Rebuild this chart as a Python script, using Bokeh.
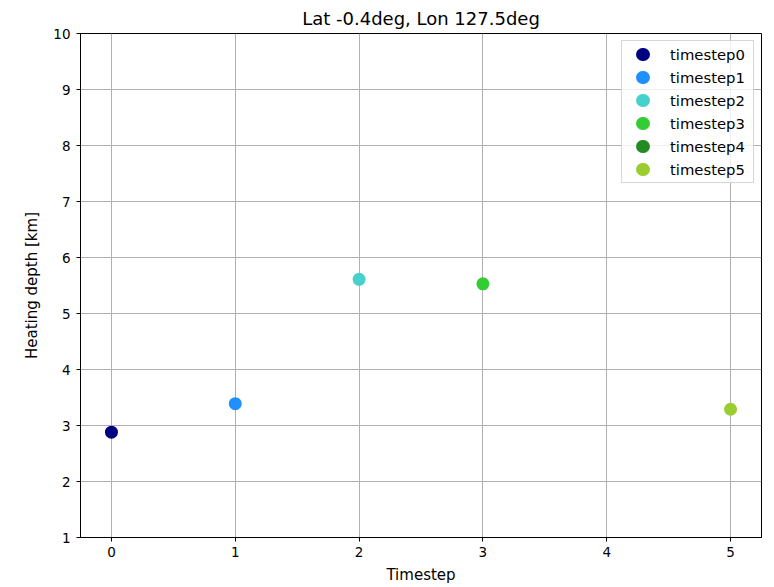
from bokeh.plotting import figure
from bokeh.models import ColumnDataSource, FixedTicker, Legend, LegendItem, Range1d
from bokeh.embed import file_html
from bokeh.resources import INLINE

# Heating depth at one grid cell for each timestep (timestep4 has no value)
timesteps = [0, 1, 2, 3, 4, 5]
labels = ["timestep0", "timestep1", "timestep2", "timestep3", "timestep4", "timestep5"]
depth_km = [2.88, 3.39, 5.61, 5.53, float("nan"), 3.29]
colors = ["navy", "dodgerblue", "mediumturquoise", "limegreen", "forestgreen", "yellowgreen"]
x_ticks = [0, 1, 2, 3, 4, 5]
y_ticks = [1, 2, 3, 4, 5, 6, 7, 8, 9, 10]

FONT = "DejaVu Sans"
MARKER = 13

p = figure(
    width=774, height=587,
    output_backend="svg", toolbar_location=None,
    x_range=Range1d(-0.25, 5.25), y_range=Range1d(1, 10),
    min_border_left=80, min_border_right=13, min_border_top=31, min_border_bottom=50,
    title="Lat -0.4deg, Lon 127.5deg",
)
p.title.align = "center"
p.title.text_font = FONT
p.title.text_font_size = "18px"
p.title.text_font_style = "normal"
p.title.text_color = "black"
p.title.offset = 0

p.outline_line_color = "black"
p.outline_line_width = 1
p.background_fill_color = "white"
p.border_fill_color = "white"

for ax in (p.xaxis, p.yaxis):
    ax.axis_line_color = "black"
    ax.major_tick_line_color = "black"
    ax.major_tick_out = 4
    ax.major_tick_in = 0
    ax.minor_tick_line_color = None
    ax.major_label_text_font = FONT
    ax.major_label_text_font_size = "13.5px"
    ax.major_label_text_color = "black"
    ax.axis_label_text_font = FONT
    ax.axis_label_text_font_size = "15px"
    ax.axis_label_text_font_style = "normal"
    ax.axis_label_text_color = "black"

p.xaxis.ticker = FixedTicker(ticks=x_ticks)
p.yaxis.ticker = FixedTicker(ticks=y_ticks)
p.xaxis.axis_label = "Timestep"
p.yaxis.axis_label = "Heating depth [km]"
p.xaxis.major_label_standoff = 5
p.yaxis.major_label_standoff = 6
p.xaxis.axis_label_standoff = 6
p.yaxis.axis_label_standoff = 9

p.grid.grid_line_color = "#b0b0b0"
p.grid.grid_line_width = 1

items = []
for t, lab, d, c in zip(timesteps, labels, depth_km, colors):
    src = ColumnDataSource(dict(x=[t], y=[d]))
    p.scatter("x", "y", source=src, size=MARKER, fill_color=c, line_color=c, line_width=0)
    # legend swatch: a single round-capped dash drawn as a filled dot
    swatch = p.line(x=[float("nan")], y=[float("nan")], line_color=c,
                    line_width=MARKER, line_cap="round",
                    line_dash="1 99", line_dash_offset=83)
    items.append(LegendItem(label=lab, renderers=[swatch]))

legend = Legend(
    items=items, location="top_right",
    label_text_font=FONT, label_text_font_size="14.8px", label_text_color="black",
    border_line_color="#cccccc", border_line_alpha=0.8,
    background_fill_alpha=0.8,
    margin=7, padding=3, spacing=3,
    label_height=20, label_width=80,
    glyph_width=34, glyph_height=20,
    label_standoff=11,
)
p.add_layout(legend, "center")

open("out.html", "w").write(file_html(p, INLINE))
